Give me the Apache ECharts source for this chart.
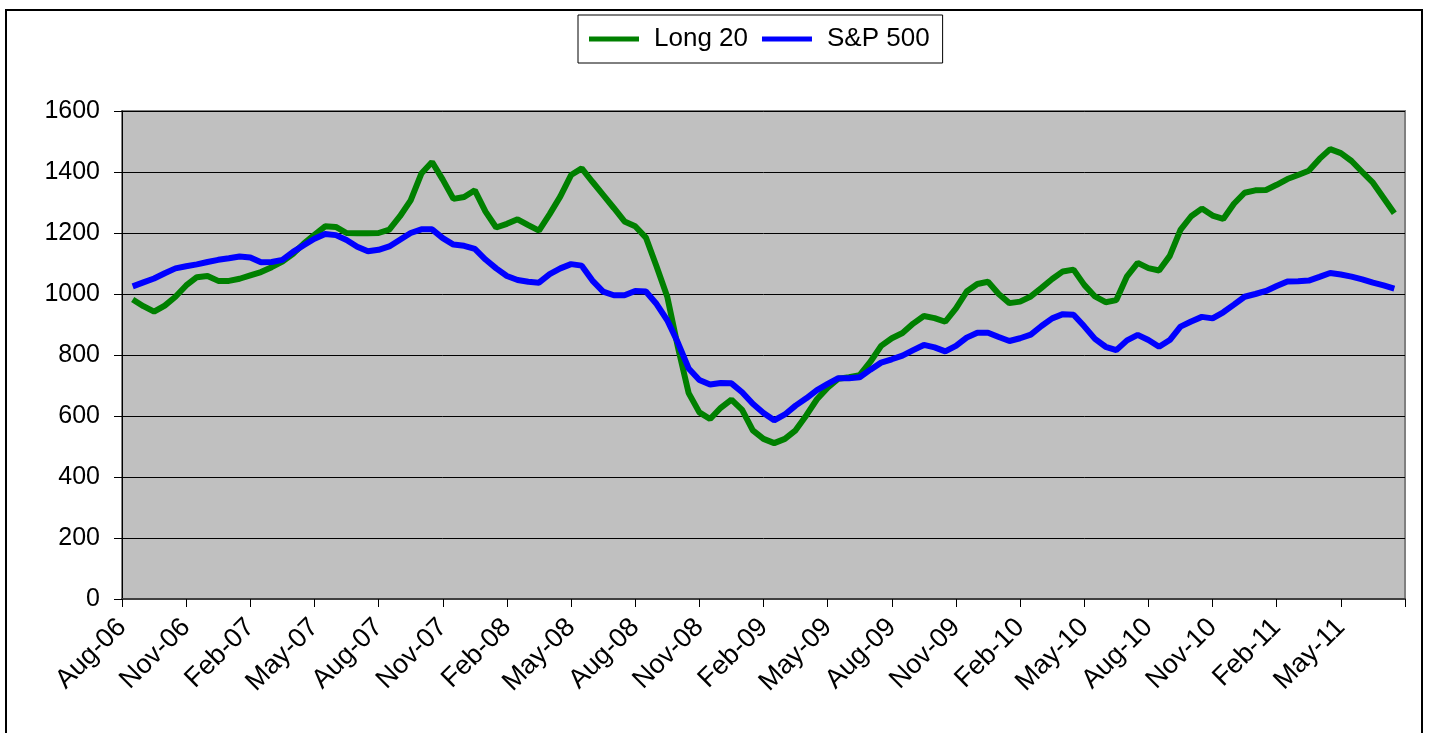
<!DOCTYPE html>
<html>
<head>
<meta charset="utf-8">
<style>
  html, body { margin: 0; padding: 0; background: #ffffff; }
  #chart { width: 1429px; height: 733px; }
</style>
<script src="https://cdn.jsdelivr.net/npm/echarts@6/dist/echarts.min.js"></script>
</head>
<body>
<div id="chart"></div>
<script>
// Quarterly tick labels, starting Aug-06 (month 0 on the x axis)
const tickLabels = ['Aug-06', 'Nov-06', 'Feb-07', 'May-07', 'Aug-07', 'Nov-07', 'Feb-08',
  'May-08', 'Aug-08', 'Nov-08', 'Feb-09', 'May-09', 'Aug-09', 'Nov-09', 'Feb-10',
  'May-10', 'Aug-10', 'Nov-10', 'Feb-11', 'May-11'];

// Observations are twice a month; first one half a month after Aug-06
const firstMonth = 0.5;
const stepMonths = 0.5;

const long20 = [
  982, 960, 942, 962, 991, 1028, 1055, 1059, 1043, 1043,
  1050, 1061, 1072, 1088, 1106, 1132, 1165, 1194, 1222, 1220,
  1200, 1199, 1199, 1200, 1211, 1255, 1307, 1395, 1433, 1375,
  1312, 1318, 1340, 1270, 1218, 1230, 1245, 1226, 1208, 1262,
  1320, 1390, 1412, 1368, 1325, 1282, 1238, 1222, 1185, 1090,
  991, 825, 675, 612, 590, 627, 654, 620, 553, 525,
  511, 525, 553, 602, 655, 693, 722, 727, 734, 778,
  830, 855, 872, 903, 928, 921, 909, 953, 1008, 1033,
  1040, 1000, 970, 975, 992, 1020, 1049, 1074, 1080, 1030,
  992, 973, 980, 1058, 1102, 1085, 1077, 1125, 1210, 1255,
  1280, 1257, 1246, 1296, 1332, 1340, 1341, 1358, 1377, 1390,
  1404, 1443, 1475, 1462, 1436, 1400, 1365, 1315, 1265
];

const sp500 = [
  1025, 1038, 1051, 1068, 1084, 1091, 1097, 1105, 1112, 1117,
  1123, 1120, 1104, 1105, 1112, 1138, 1160, 1181, 1197, 1193,
  1177, 1155, 1140, 1145, 1156, 1178, 1200, 1212, 1212, 1183,
  1162, 1158, 1148, 1113, 1084, 1059, 1046, 1040, 1037, 1065,
  1084, 1098, 1093, 1044, 1008, 996, 996, 1010, 1008, 967,
  914, 840, 756, 718, 703, 708, 707, 678, 640, 610,
  586, 605, 634, 658, 685, 705, 724, 724, 727, 752,
  775, 786, 798, 816, 833, 825, 812, 830, 857, 873,
  873, 859, 846, 855, 867, 895, 920, 934, 932, 894,
  853, 827, 816, 848, 866, 849, 827, 849, 893, 910,
  925, 920, 940, 965, 991, 1000, 1010, 1026, 1041, 1042,
  1044, 1056, 1069, 1064, 1057, 1048, 1037, 1028, 1018
];

const yTicks = [0, 200, 400, 600, 800, 1000, 1200, 1400, 1600];

function toPoints(values) {
  return values.map((v, i) => [firstMonth + i * stepMonths, v]);
}

const FONT = '"Liberation Sans", Arial, sans-serif';

const chart = echarts.init(document.getElementById('chart'), null, { renderer: 'canvas' });

chart.setOption({
  animation: false,
  backgroundColor: '#ffffff',
  textStyle: { fontFamily: FONT },
  graphic: [{
    type: 'rect',
    z: 100,
    silent: true,
    shape: { x: 6, y: 10, width: 1416, height: 760 },
    style: { fill: 'none', stroke: '#000000', lineWidth: 2 }
  }],
  legend: {
    left: 578,
    top: 15,
    padding: [11, 13, 11, 11],
    itemGap: 14,
    itemWidth: 50,
    itemHeight: 5,
    borderColor: '#000000',
    borderWidth: 1,
    backgroundColor: '#ffffff',
    icon: 'rect',
    textStyle: { fontSize: 26, color: '#000000', fontFamily: FONT, padding: [0, 0, 0, 10] },
    data: ['Long 20', 'S&P 500']
  },
  grid: {
    left: 122,
    right: 24,
    top: 111,
    bottom: 134,
    show: true,
    backgroundColor: '#C0C0C0',
    borderColor: '#808080',
    borderWidth: 2
  },
  xAxis: {
    type: 'value',
    min: 0,
    max: tickLabels.length * 3,
    interval: 3,
    axisLine: { show: true, lineStyle: { color: '#404040', width: 2 } },
    axisTick: { show: true, length: 8, lineStyle: { color: '#000000', width: 1 } },
    splitLine: { show: false },
    axisLabel: {
      rotate: 45,
      margin: 24,
      fontSize: 27,
      color: '#000000',
      fontFamily: FONT,
      showMaxLabel: true,
      formatter: (v) => tickLabels[Math.round(v / 3)] || ''
    }
  },
  yAxis: {
    type: 'value',
    min: yTicks[0],
    max: yTicks[yTicks.length - 1],
    interval: yTicks[1] - yTicks[0],
    axisLine: { show: true, lineStyle: { color: '#000000', width: 1 } },
    axisTick: { show: true, length: 8, lineStyle: { color: '#000000', width: 1 } },
    splitLine: { show: true, lineStyle: { color: '#000000', width: 1 } },
    axisLabel: {
      margin: 22,
      fontSize: 25,
      color: '#000000',
      fontFamily: FONT,
      formatter: (v) => String(v)
    }
  },
  series: [
    {
      name: 'Long 20',
      type: 'line',
      data: toPoints(long20),
      showSymbol: false,
      symbol: 'none',
      color: '#008000',
      lineStyle: { color: '#008000', width: 6 }
    },
    {
      name: 'S&P 500',
      type: 'line',
      data: toPoints(sp500),
      showSymbol: false,
      symbol: 'none',
      color: '#0000FF',
      lineStyle: { color: '#0000FF', width: 6 }
    }
  ]
});
</script>
</body>
</html>
